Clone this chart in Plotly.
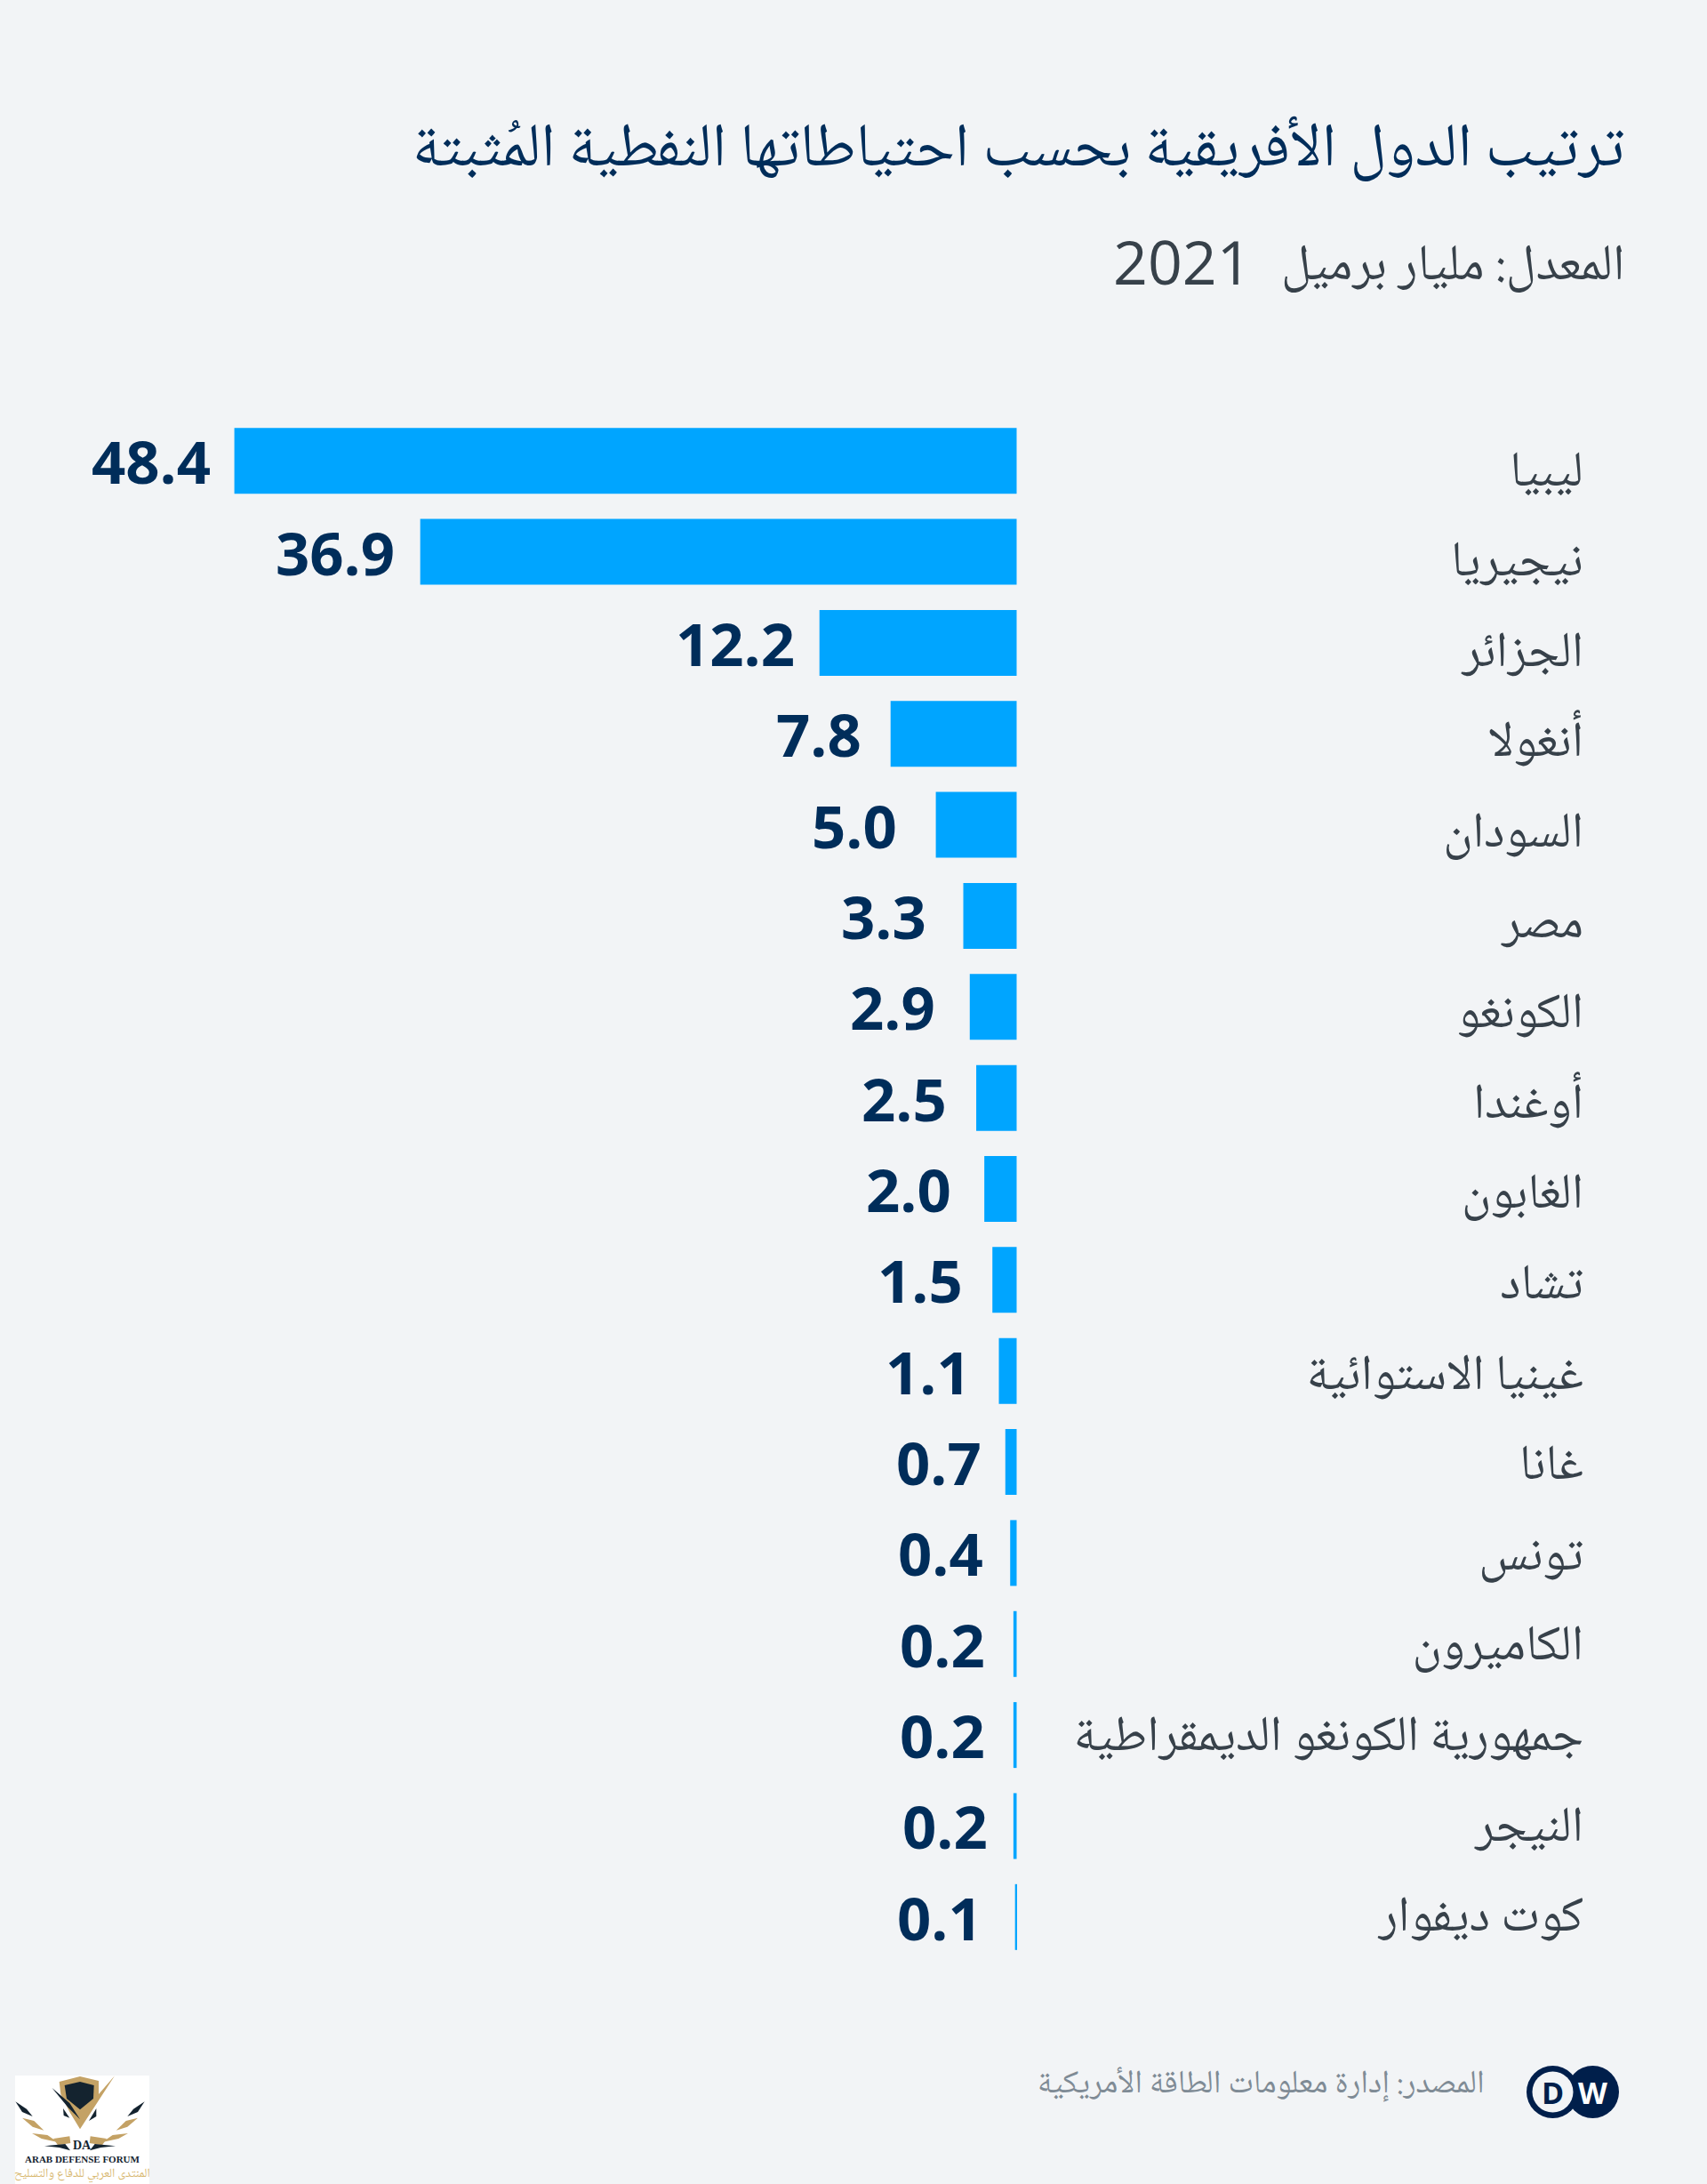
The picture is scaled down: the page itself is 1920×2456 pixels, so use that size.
import plotly.graph_objects as go

countries = ["ليبيا", "نيجيريا", "الجزائر", "أنغولا", "السودان", "مصر", "الكونغو", "أوغندا", "الغابون",
             "تشاد", "غينيا الاستوائية", "غانا", "تونس", "الكاميرون", "جمهورية الكونغو الديمقراطية",
             "النيجر", "كوت ديفوار"]
reserves = [48.4, 36.9, 12.2, 7.8, 5.0, 3.3, 2.9, 2.5, 2.0, 1.5, 1.1, 0.7, 0.4, 0.2, 0.2, 0.2, 0.1]

title = "ترتيب الدول الأفريقية بحسب احتياطاتها النفطية المُثبتة"
unit = "المعدل: مليار برميل"
year = "2021"
source = "المصدر: إدارة معلومات الطاقة الأمريكية"

# gap between bar end and its value label, px
label_gaps = [25, 27, 26, 31, 42, 40, 37, 31, 35, 31, 30, 25, 28, 30, 30, 27, 35]

W, H = 1920, 2456
BG = "#f2f4f6"
NAVY = "#002d5a"
LOGO_NAVY = "#001f4b"
GREY = "#37414a"
BLUE = "#00a5ff"
GOLD = "#c4a265"
DARK = "#14232f"
ARABIC = "Noto Naskh Arabic, Noto Sans Arabic, DejaVu Sans, sans-serif"


def px(x):
    return x / W


def py(y):
    return 1 - y / H


def text_at(x, y, s, size, color, family=ARABIC, anchor="right"):
    return dict(x=px(x), y=py(y), xref="paper", yref="paper", text=s, showarrow=False, xanchor=anchor,
                yanchor="middle", font=dict(size=size, color=color, family=family))


def circle(cx, cy, r, color):
    return dict(type="circle", xref="paper", yref="paper", x0=px(cx - r), x1=px(cx + r), y0=py(cy + r),
                y1=py(cy - r), fillcolor=color, line=dict(width=0), layer="above")


# forum logo, points (3x, origin 10,2325)
def poly(points, color):
    xy = [(px(10 + a / 3), py(2325 + b / 3)) for a, b in points]
    path = "M " + " L ".join(f"{a:.5f},{b:.5f}" for a, b in xy) + " Z"
    return dict(type="path", xref="paper", yref="paper", path=path, fillcolor=color, line=dict(width=0),
                layer="above")


def mirrored(points):
    return [(480 - a, b) for a, b in points]


wing_gold = [
    [(45, 170), (85, 180), (118, 212), (80, 200)],
    [(78, 222), (130, 228), (165, 252), (110, 240)],
    [(150, 240), (205, 232), (208, 255), (165, 262)],
]
wing_dark = [
    [(22, 115), (60, 140), (80, 165), (45, 150)],
    [(120, 265), (190, 258), (207, 280), (170, 270)],
]

shapes = [
    dict(type="rect", xref="paper", yref="paper", x0=px(17), x1=px(168), y0=py(2456), y1=py(2334),
         fillcolor="white", line=dict(width=0), layer="above"),
    poly([(170, 48), (240, 30), (303, 45), (303, 90), (357, 28), (240, 208), (205, 150), (175, 90)], GOLD),
    poly([(188, 60), (240, 48), (287, 60), (285, 105), (240, 142), (195, 105)], DARK),
    poly([(145, 68), (205, 120), (240, 175), (200, 135)], DARK),
    poly([(183, 138), (205, 170), (185, 162)], DARK),
    poly([(295, 138), (270, 180), (295, 165)], DARK),
]
for wing in wing_gold:
    shapes += [poly(wing, GOLD), poly(mirrored(wing), GOLD)]
for wing in wing_dark:
    shapes += [poly(wing, DARK), poly(mirrored(wing), DARK)]

# DW logo
shapes += [circle(1791.5, 2352.5, 29.5, LOGO_NAVY), circle(1746.5, 2352.5, 29.5, LOGO_NAVY),
           circle(1746.5, 2352.5, 23, BG)]

annotations = [
    text_at(1829, 171, title, 69, NAVY),
    text_at(1829, 301, unit, 57, GREY),
    text_at(1410, 294, year, 68, GREY, "Open Sans"),
    text_at(1672, 2345, source, 36.5, "#7f8b95"),
    text_at(1746.5, 2352.5, "<b>D</b>", 34, LOGO_NAVY, "Open Sans", "center"),
    text_at(1791.5, 2352.5, "<b>W</b>", 34, "white", "Open Sans", "center"),
    text_at(92.5, 2412, "<b>DA</b>", 14, DARK, "Liberation Serif", "center"),
    text_at(92.5, 2427.5, "<b>ARAB DEFENSE FORUM</b>", 11, DARK, "Liberation Serif", "center"),
    text_at(92.5, 2445, "المنتدى العربي للدفاع والتسليح", 14, "#d8b870", ARABIC, "center"),
]
for country, value, gap in zip(countries, reserves, label_gaps):
    annotations.append(dict(x=value, y=country, xref="x", yref="y", text=f"<b>{value:.1f}</b>",
                            showarrow=False, xanchor="right", yanchor="middle", xshift=-gap,
                            font=dict(size=67, color=NAVY, family="Open Sans")))

fig = go.Figure()
fig.add_trace(go.Bar(x=reserves, y=countries, orientation="h", marker=dict(color=BLUE, line=dict(width=0)),
                     hoverinfo="skip"))
# the names sit on a slightly tighter rhythm than the bars, so they get their own axis
fig.add_trace(go.Scatter(x=reserves, y=countries, yaxis="y2", mode="markers", marker=dict(opacity=0),
                         hoverinfo="skip"))

fig.update_layout(
    width=W, height=H, margin=dict(l=0, r=0, t=0, b=0), paper_bgcolor=BG, plot_bgcolor="rgba(0,0,0,0)",
    showlegend=False, bargap=0.277, shapes=shapes, annotations=annotations,
    xaxis=dict(domain=[0, px(1784)], range=[1143.5 / 18.18, (1143.5 - 1784) / 18.18], visible=False, fixedrange=True),
    yaxis=dict(domain=[py(2207), py(467)], range=[16.5, -0.5], type="category", categoryorder="array",
               categoryarray=countries, visible=False, fixedrange=True),
    # range runs past the ends so the inside tick labels at both ends are kept
    yaxis2=dict(domain=[py(2304), py(373.6)], range=[17.5, -1.5], anchor="x", side="right",
                ticklabelposition="inside", type="category", categoryorder="array", categoryarray=countries,
                showgrid=False, zeroline=False, showline=False, ticks="", automargin=False, fixedrange=True,
                tickfont=dict(size=56, color=GREY, family=ARABIC)),
)

fig.write_html("out.html", config=dict(displayModeBar=False),
               post_script="document.body.style.margin='0';document.body.style.background='%s';" % BG)
